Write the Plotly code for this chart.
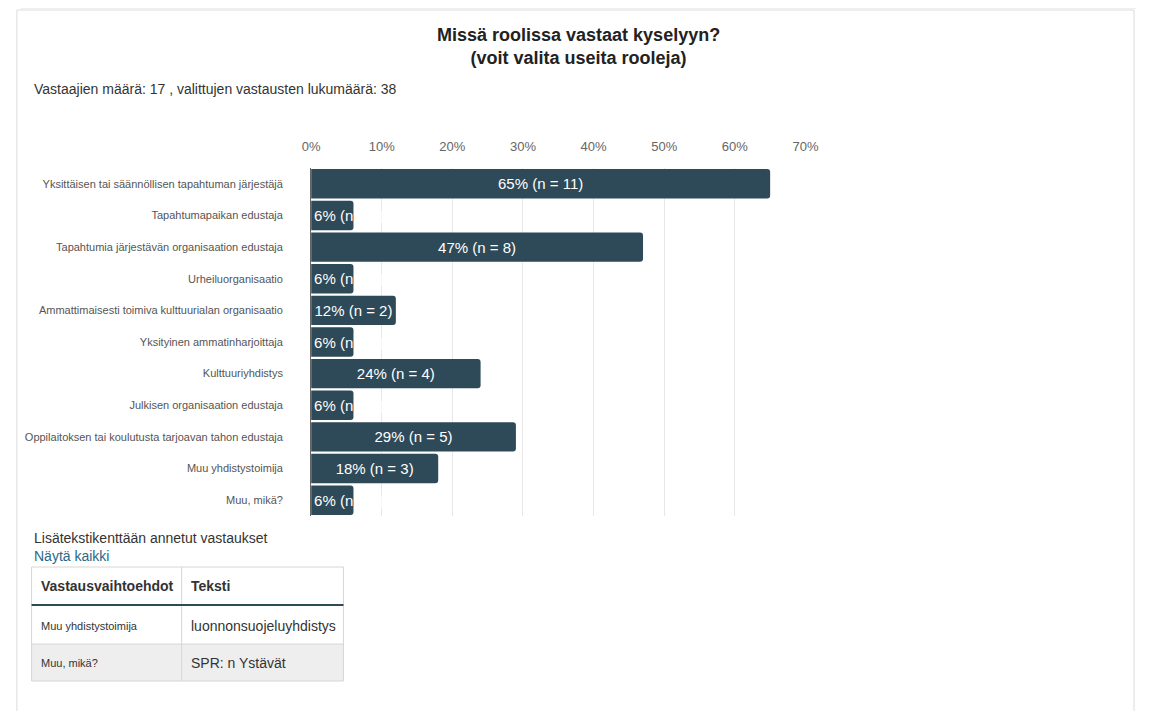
import plotly.graph_objects as go

W, H = 1149, 711

categories = [
    "Yksittäisen tai säännöllisen tapahtuman järjestäjä",
    "Tapahtumapaikan edustaja",
    "Tapahtumia järjestävän organisaation edustaja",
    "Urheiluorganisaatio",
    "Ammattimaisesti toimiva kulttuurialan organisaatio",
    "Yksityinen ammatinharjoittaja",
    "Kulttuuriyhdistys",
    "Julkisen organisaation edustaja",
    "Oppilaitoksen tai koulutusta tarjoavan tahon edustaja",
    "Muu yhdistystoimija",
    "Muu, mikä?",
]
percents = [65, 6, 47, 6, 12, 6, 24, 6, 29, 18, 6]
counts = [11, 1, 8, 1, 2, 1, 4, 1, 5, 3, 1]
x_ticks = [0, 10, 20, 30, 40, 50, 60, 70]

title_lines = ["Missä roolissa vastaat kyselyyn?", "(voit valita useita rooleja)"]
respondents = 17
answers_total = 38

table_title = "Lisätekstikenttään annetut vastaukset"
table_link = "Näytä kaikki"
table_headers = ["Vastausvaihtoehdot", "Teksti"]
table_options = ["Muu yhdistystoimija", "Muu, mikä?"]
table_texts = ["luonnonsuojeluyhdistys", "SPR: n Ystävät"]

BAR = "#2e4a59"
FONT = "Liberation Sans, Arial, sans-serif"


def px(x):
    return x / W


def py(y):
    return 1 - y / H


labels = [f"{p}% (n = {n})" for p, n in zip(percents, counts)]
wide = [p >= 10 for p in percents]

fig = go.Figure()
fig.add_trace(go.Bar(
    y=[c for c, w in zip(categories, wide) if w],
    x=[p for p, w in zip(percents, wide) if w],
    text=[t for t, w in zip(labels, wide) if w],
    orientation="h",
    marker=dict(color=BAR, cornerradius=3, line=dict(width=0)),
    textposition="inside", insidetextanchor="middle", constraintext="none",
    textfont=dict(color="white", size=15, family=FONT),
    hoverinfo="skip", showlegend=False,
))
fig.add_trace(go.Bar(
    y=[c for c, w in zip(categories, wide) if not w],
    x=[p for p, w in zip(percents, wide) if not w],
    text=[t for t, w in zip(labels, wide) if not w],
    orientation="h",
    marker=dict(color=BAR, cornerradius=3, line=dict(width=0)),
    textposition="inside", insidetextanchor="start", constraintext="none",
    textfont=dict(color="white", size=15, family=FONT),
    hoverinfo="skip", showlegend=False,
))

shapes = []
annotations = []

# card (with faint top shadow)
shapes.append(dict(
    type="line", xref="paper", yref="paper", x0=px(12), x1=px(1149), y0=py(8.5), y1=py(8.5),
    line=dict(color="#efefef", width=1), layer="below",
))
shapes.append(dict(
    type="rect", xref="paper", yref="paper", x0=px(8), y0=py(740), x1=px(1147), y1=py(10),
    line=dict(color="#dcdcdc", width=1), fillcolor="rgba(0,0,0,0)", layer="below",
))

# titles
annotations.append(dict(
    x=px(581), y=py(46.5), xref="paper", yref="paper", xanchor="center", yanchor="middle",
    text="<b>" + "<br>".join(title_lines) + "</b>", showarrow=False,
    font=dict(size=18, color="#222", family=FONT),
))
annotations.append(dict(
    x=px(23), y=py(89), xref="paper", yref="paper", xanchor="left", yanchor="middle",
    text=f"Vastaajien määrä: {respondents} , valittujen vastausten lukumäärä: {answers_total}",
    showarrow=False, font=dict(size=14, color="#333", family=FONT),
))

# table section
annotations.append(dict(
    x=px(23), y=py(538), xref="paper", yref="paper", xanchor="left", yanchor="middle",
    text=table_title, showarrow=False, font=dict(size=14, color="#333", family=FONT),
))
annotations.append(dict(
    x=px(23), y=py(556), xref="paper", yref="paper", xanchor="left", yanchor="middle",
    text=table_link, showarrow=False, font=dict(size=14, color="#2a6886", family=FONT),
))

tl, tr, tm = 23, 341, 176
ttop, thead, trow, tbot = 567, 605, 644, 681
shapes.append(dict(type="rect", xref="paper", yref="paper", x0=px(tl), x1=px(tr), y0=py(tbot), y1=py(trow),
                   fillcolor="#eeeeee", line=dict(width=0)))
shapes.append(dict(type="rect", xref="paper", yref="paper", x0=px(tl), x1=px(tr), y0=py(tbot), y1=py(ttop),
                   fillcolor="rgba(0,0,0,0)", line=dict(color="#d6d6d6", width=1)))
shapes.append(dict(type="line", xref="paper", yref="paper", x0=px(tm), x1=px(tm), y0=py(tbot), y1=py(ttop),
                   line=dict(color="#d6d6d6", width=1)))
shapes.append(dict(type="line", xref="paper", yref="paper", x0=px(tl), x1=px(tr), y0=py(trow), y1=py(trow),
                   line=dict(color="#d6d6d6", width=1)))
shapes.append(dict(type="line", xref="paper", yref="paper", x0=px(tl), x1=px(tr), y0=py(thead), y1=py(thead),
                   line=dict(color=BAR, width=2)))

col_x = [tl + 8, tm + 8]
for i, h in enumerate(table_headers):
    annotations.append(dict(
        x=px(col_x[i]), y=py(586), xref="paper", yref="paper", xanchor="left", yanchor="middle",
        text=f"<b>{h}</b>", showarrow=False, font=dict(size=14, color="#333", family=FONT),
    ))
row_y = [626, 663]
for j, (o, t) in enumerate(zip(table_options, table_texts)):
    annotations.append(dict(
        x=px(col_x[0]), y=py(row_y[j]), xref="paper", yref="paper", xanchor="left", yanchor="middle",
        text=o, showarrow=False, font=dict(size=11, color="#333", family=FONT),
    ))
    annotations.append(dict(
        x=px(col_x[1]), y=py(row_y[j]), xref="paper", yref="paper", xanchor="left", yanchor="middle",
        text=t, showarrow=False, font=dict(size=14, color="#333", family=FONT),
    ))

fig.update_layout(
    width=W, height=H, autosize=False,
    margin=dict(l=0, r=0, t=0, b=0),
    paper_bgcolor="white", plot_bgcolor="white",
    barmode="overlay", bargap=0.07,
    font=dict(family=FONT),
    shapes=shapes, annotations=annotations,
    xaxis=dict(
        domain=[px(308), px(812)], range=[0, 70], side="top",
        tickvals=x_ticks, ticktext=[f"{v}%" for v in x_ticks],
        showgrid=True, gridcolor="#e8e8e8", gridwidth=1, zeroline=False,
        showline=False, ticks="", ticklabelstandoff=13,
        tickfont=dict(size=13, color="#666", family=FONT), fixedrange=True,
    ),
    yaxis=dict(
        domain=[py(516), py(168)], autorange="reversed",
        categoryorder="array", categoryarray=categories,
        showgrid=False, zeroline=False, showline=True, linecolor="#666", linewidth=1,
        ticks="", ticklabelstandoff=25,
        tickfont=dict(size=11, color="#555", family=FONT), fixedrange=True,
    ),
)

fig.write_html(
    "out.html",
    config={"displayModeBar": False, "responsive": False},
    post_script="document.body.style.margin='0px';document.body.style.overflow='hidden';",
)
